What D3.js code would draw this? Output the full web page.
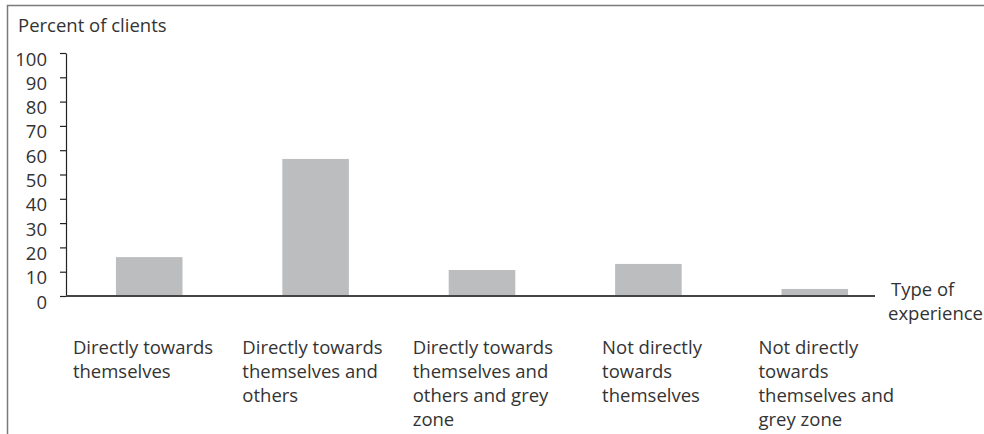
<!DOCTYPE html>
<html>
<head>
<meta charset="utf-8">
<script src="https://cdn.jsdelivr.net/npm/d3@7"></script>
<style>
  body { margin: 0; background: #fff; }
  text { font-family: "Open Sans", "Noto Sans", sans-serif; fill: #333; }
</style>
</head>
<body>
<div id="chart"></div>
<script>
// data
var categories = [
  ["Directly towards", "themselves"],
  ["Directly towards", "themselves and", "others"],
  ["Directly towards", "themselves and", "others and grey", "zone"],
  ["Not directly", "towards", "themselves"],
  ["Not directly", "towards", "themselves and", "grey zone"]
];
var values = [16, 56.4, 10.7, 13.2, 2.9];
var yTicks = [0, 10, 20, 30, 40, 50, 60, 70, 80, 90, 100];

var W = 984, H = 434;
var fontSize = 18.5;

var svg = d3.select("#chart").append("svg")
    .attr("width", W)
    .attr("height", H);

// frame lines (left + top)
svg.append("path")
    .attr("d", "M7.5,434V5.5H984")
    .attr("fill", "none")
    .attr("stroke", "#7a7a7a")
    .attr("stroke-width", 1.5);

var x = d3.scaleBand()
    .domain(d3.range(values.length))
    .range([66, 898])
    .paddingInner(0.6)
    .paddingOuter(0.3);

var y = d3.scaleLinear()
    .domain([0, 100])
    .range([296, 53]);

// bars
svg.append("g").selectAll("rect")
    .data(values)
    .enter()
    .append("rect")
    .attr("x", function(d, i){ return x(i); })
    .attr("y", function(d){ return y(d); })
    .attr("width", x.bandwidth())
    .attr("height", function(d){ return y(0) - y(d); })
    .attr("fill", "#bcbdbf");

// y axis
var yAxis = svg.append("g")
    .attr("transform", "translate(66,0)")
    .call(d3.axisLeft(y).tickValues(yTicks).tickSize(6).tickSizeOuter(0).tickPadding(13));
yAxis.selectAll("path, line").attr("stroke", "#222").attr("stroke-width", 1.2);
yAxis.selectAll("text")
    .attr("font-size", fontSize)
    .attr("font-family", "'Open Sans', 'Noto Sans', sans-serif")
    .attr("fill", "#333")
    .attr("dy", "0.65em");

// x axis line
svg.append("line")
    .attr("x1", 66).attr("x2", 875)
    .attr("y1", y(0)).attr("y2", y(0))
    .attr("stroke", "#444")
    .attr("stroke-width", 2);

// y title
svg.append("text")
    .attr("x", 18)
    .attr("y", 32)
    .attr("font-size", fontSize)
    .text("Percent of clients");

// x title
var xt = svg.append("text")
    .attr("x", 891)
    .attr("y", 296)
    .attr("font-size", fontSize);
xt.append("tspan").attr("x", 891).text("Type of");
xt.append("tspan").attr("x", 888).attr("dy", 24).text("experience");

// category labels, left aligned (offset from the bar's left edge)
var labelShift = [-43, -40, -36, -13, -23];
var labels = svg.append("g").selectAll("text")
    .data(categories)
    .enter()
    .append("text")
    .attr("font-size", fontSize)
    .attr("y", 354);
labels.each(function(lines, i){
  var t = d3.select(this);
  var lx = x(i) + labelShift[i];
  lines.forEach(function(s, j){
    t.append("tspan")
      .attr("x", lx)
      .attr("dy", j === 0 ? 0 : 24)
      .text(s);
  });
});
</script>
</body>
</html>
